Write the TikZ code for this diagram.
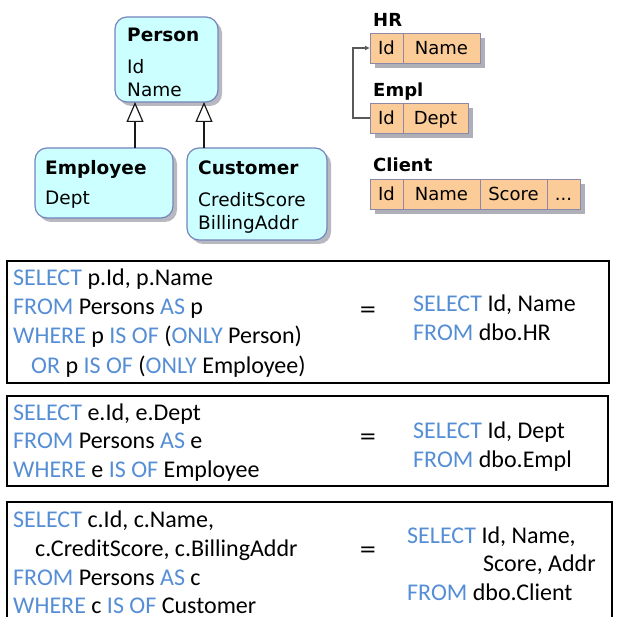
\documentclass[tikz,border=0pt]{standalone}
\usepackage{fontspec}
\setmainfont{Carlito}
\newfontfamily\umlfont{DejaVu Sans}
\usetikzlibrary{positioning,calc,arrows.meta,shadows}
\definecolor{kwblue}{HTML}{558ED5}
\definecolor{clsfill}{HTML}{CCFFFF}
\definecolor{clsline}{HTML}{7484BC}
\definecolor{tblfill}{HTML}{FBCB98}
\definecolor{tblline}{HTML}{8C88AA}
\definecolor{shade}{HTML}{A6A6B0}
\newcommand{\kw}[1]{\textcolor{kwblue}{#1}}
\tikzset{
  >={Latex},
  cls/.style={draw=clsline, line width=1.2pt, fill=clsfill, rounded corners=12pt,
    inner sep=0pt, outer sep=0pt, anchor=north west,
    drop shadow={shadow xshift=4pt, shadow yshift=-4pt, fill=shade, opacity=.8}},
  clshead/.style={font=\umlfont\bfseries\fontsize{18.5}{22}\selectfont, inner sep=0pt, anchor=base west},
  attr/.style={font=\umlfont\fontsize{18.5}{22}\selectfont, inner sep=0pt, anchor=base west},
  gen/.style={line width=2.8pt, draw=black!90,
    -{Triangle[open, length=20pt, width=17pt, line width=1.2pt, fill=white]}},
  lbl/.style={font=\umlfont\bfseries\fontsize{18}{22}\selectfont, inner sep=0pt, anchor=base west},
  cell/.style={draw=tblline, line width=.9pt, fill=tblfill, inner sep=0pt, outer sep=0pt,
    minimum height=30pt, text height=13pt, text depth=0pt, anchor=north west,
    font=\umlfont\fontsize{18}{22}\selectfont,
    drop shadow={shadow xshift=5pt, shadow yshift=-5pt, fill=shade, opacity=.9}},
  link/.style={draw=black!65, line width=1.6pt, -{Latex[length=5pt, width=5pt]}},
  qbox/.style={draw, line width=1.3pt, inner sep=0pt, outer sep=0pt, anchor=north west},
  sql/.style={font=\fontsize{24}{29}\selectfont, inner sep=0pt, anchor=base west},
  eq/.style={font=\umlfont\fontsize{21}{24}\selectfont, inner sep=0pt}
}
\begin{document}
\begin{tikzpicture}[x=1pt,y=-1pt]
  \useasboundingbox (0,0) rectangle (618,617);

  \node[cls, minimum width=103pt, minimum height=85pt] (cls_p) at (115,17) {};
  \node[cls, minimum width=138pt, minimum height=70pt] (cls_e) at (35,148) {};
  \node[cls, minimum width=140pt, minimum height=92pt] (cls_c) at (187,148) {};
  \node[clshead] (p_0) at ($(cls_p.north west)+(12,25)$) {Person};
  \node[attr] (p_1) at ($(cls_p.north west)+(12,57)$) {Id};
  \node[attr] (p_2) at ($(cls_p.north west)+(12,80)$) {Name};
  \node[clshead] (e_0) at ($(cls_e.north west)+(10,27)$) {Employee};
  \node[attr] (e_1) at ($(cls_e.north west)+(10,57)$) {Dept};
  \node[clshead] (c_0) at ($(cls_c.north west)+(11,27)$) {Customer};
  \node[attr] (c_1) at ($(cls_c.north west)+(11,59)$) {CreditScore};
  \node[attr] (c_2) at ($(cls_c.north west)+(11,82)$) {BillingAddr};
  \coordinate (g_1) at ($(cls_e.north west)+(100,0)$);
  \coordinate (g_2) at ($(cls_c.north west)+(17,0)$);
  \draw[gen] (g_1) -- (g_1 |- cls_p.south);
  \draw[gen] (g_2) -- (g_2 |- cls_p.south);

  \node[lbl] (hr) at (373,27) {HR};
  \node[cell, minimum width=33pt] (hr_1) at (370,33) {Id};
  \node[cell, minimum width=77pt, right=0pt of hr_1] (hr_2) {Name};
  \node[lbl] (em) at (373,97) {Empl};
  \node[cell, minimum width=33pt] (em_1) at (370,103) {Id};
  \node[cell, minimum width=65pt, right=0pt of em_1] (em_2) {Dept};
  \node[lbl] (cl) at (373,172) {Client};
  \node[cell, minimum width=33pt] (cl_1) at (370,179) {Id};
  \node[cell, minimum width=77pt, right=0pt of cl_1] (cl_2) {Name};
  \node[cell, minimum width=67pt, right=0pt of cl_2] (cl_3) {Score};
  \node[cell, minimum width=33pt, right=0pt of cl_3] (cl_4) {...};
  \draw[link] (em_1.west) -- ++(-17,0) |- (hr_1.west);

  \node[qbox, minimum width=602pt, minimum height=122pt] (q_1) at (7,261) {};
  \node[sql] (s_11) at (13,286) {\kw{SELECT} p.Id, p.Name};
  \node[sql] (s_12) at (13,315) {\kw{FROM} Persons \kw{AS} p};
  \node[sql] (s_13) at (13,344) {\kw{WHERE} p \kw{IS OF} (\kw{ONLY} Person)};
  \node[sql] (s_14) at (31,373) {\kw{OR} p \kw{IS OF} (\kw{ONLY} Employee)};
  \node[eq] (eq_1) at (368,312) {=};
  \node[sql] (t_11) at (413,312) {\kw{SELECT} Id, Name};
  \node[sql] (t_12) at (413,341) {\kw{FROM} dbo.HR};

  \node[qbox, minimum width=601pt, minimum height=90pt] (q_2) at (7,396) {};
  \node[sql] (s_21) at (13,420) {\kw{SELECT} e.Id, e.Dept};
  \node[sql] (s_22) at (13,448) {\kw{FROM} Persons \kw{AS} e};
  \node[sql] (s_23) at (13,477) {\kw{WHERE} e \kw{IS OF} Employee};
  \node[eq] (eq_2) at (368,439) {=};
  \node[sql] (t_21) at (413,438) {\kw{SELECT} Id, Dept};
  \node[sql] (t_22) at (413,467) {\kw{FROM} dbo.Empl};

  \node[qbox, minimum width=605pt, minimum height=140pt] (q_3) at (7,502) {};
  \node[sql] (s_31) at (13,527) {\kw{SELECT} c.Id, c.Name,};
  \node[sql] (s_32) at (35,556) {c.CreditScore, c.BillingAddr};
  \node[sql] (s_33) at (13,585) {\kw{FROM} Persons \kw{AS} c};
  \node[sql] (s_34) at (13,613) {\kw{WHERE} c \kw{IS OF} Customer};
  \node[eq] (eq_3) at (368,552) {=};
  \node[sql] (t_31) at (407,543) {\kw{SELECT} Id, Name,};
  \node[sql] (t_32) at (483,571) {Score, Addr};
  \node[sql] (t_33) at (407,600) {\kw{FROM} dbo.Client};
\end{tikzpicture}
\end{document}
